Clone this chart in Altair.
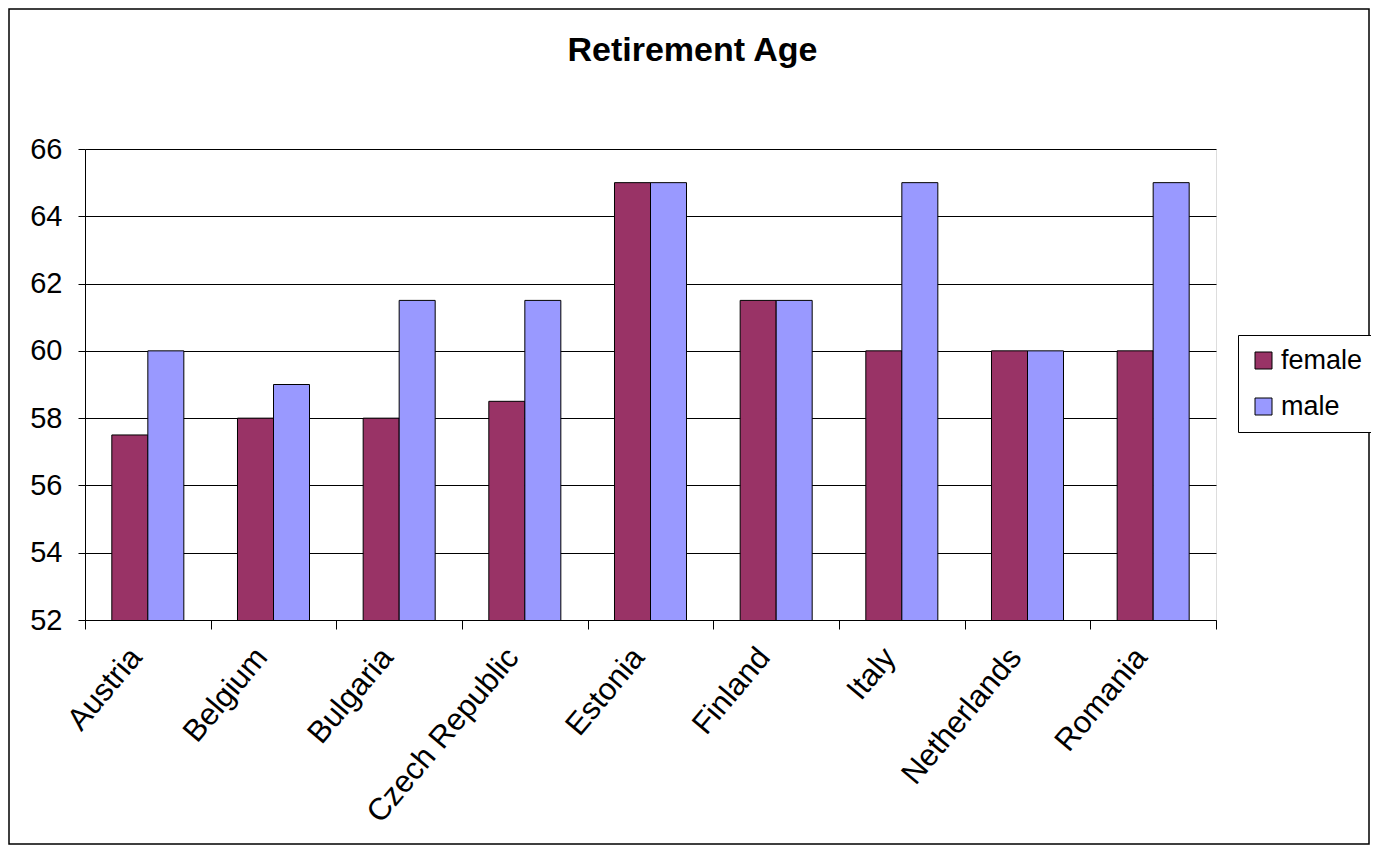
import altair as alt
import pandas as pd

countries = ["Austria", "Belgium", "Bulgaria", "Czech Republic", "Estonia",
             "Finland", "Italy", "Netherlands", "Romania"]
female = [57.5, 58, 58, 58.5, 65, 61.5, 60, 60, 60]
male = [60, 59, 61.5, 61.5, 65, 61.5, 65, 60, 65]
series = ["female", "male"]
colors = ["#993366", "#9999FF"]
y_ticks = [52, 54, 56, 58, 60, 62, 64, 66]

rows = []
for c, f, m in zip(countries, female, male):
    rows.append({"country": c, "sex": "female", "age": f})
    rows.append({"country": c, "sex": "male", "age": m})
df = pd.DataFrame(rows)

W, H = 1131, 471
FONT = "Liberation Sans"

bars = alt.Chart(df).mark_bar(stroke="black", strokeWidth=1, clip=True).encode(
    x=alt.X("country:N", sort=countries, title=None,
            scale=alt.Scale(paddingInner=0, paddingOuter=0),
            axis=alt.Axis(tickBand="extent", labelAngle=-50, labelAlign="right",
                          labelBaseline="middle", labelFontSize=31, labelPadding=23,
                          labelOffset=-12, tickSize=9, tickColor="black",
                          domainColor="black", labelColor="black", labelFont=FONT,
                          grid=False, labelLimit=400)),
    xOffset=alt.XOffset("sex:N", sort=series,
                        scale=alt.Scale(paddingInner=0, paddingOuter=0.745)),
    y=alt.Y("age:Q", title=None,
            scale=alt.Scale(domain=[52, 66], nice=False, zero=False),
            axis=alt.Axis(values=y_ticks, tickSize=7, tickColor="black",
                          domainColor="black", labelColor="black", labelFont=FONT,
                          labelFontSize=29, labelPadding=16, gridColor="black",
                          gridOpacity=1, gridWidth=1)),
    color=alt.Color("sex:N", sort=series,
                    scale=alt.Scale(domain=series, range=colors),
                    legend=alt.Legend(title=None, orient="none", legendX=1153,
                                      legendY=186, symbolType="square",
                                      symbolSize=289, symbolStrokeColor="black",
                                      symbolStrokeWidth=1, labelFontSize=27,
                                      labelFont=FONT, labelColor="black",
                                      strokeColor="black", fillColor="white",
                                      padding=12, rowPadding=18, labelOffset=4,
                                      labelLimit=300)),
)

border = alt.Chart(pd.DataFrame({"d": [0]})).mark_rect(
    fill=None, stroke="black", strokeWidth=1.5, clip=False
).encode(
    x=alt.value(-76), x2=alt.value(W + 153),
    y=alt.value(-140), y2=alt.value(H + 224),
)

chart = alt.layer(border, bars).properties(
    width=W, height=H,
    title=alt.TitleParams("Retirement Age", fontSize=34, font=FONT,
                          fontWeight="bold", color="black", anchor="middle",
                          dx=42, offset=87, dy=147),
    autosize=alt.AutoSizeParams(type="none"),
    padding={"left": 77, "top": 141, "right": 155, "bottom": 226},
).configure_view(fill="#C0C0C0", stroke="black", strokeWidth=1).configure(
    background="white"
)

chart.save("out.html", embed_options={"renderer": "svg", "actions": False})
